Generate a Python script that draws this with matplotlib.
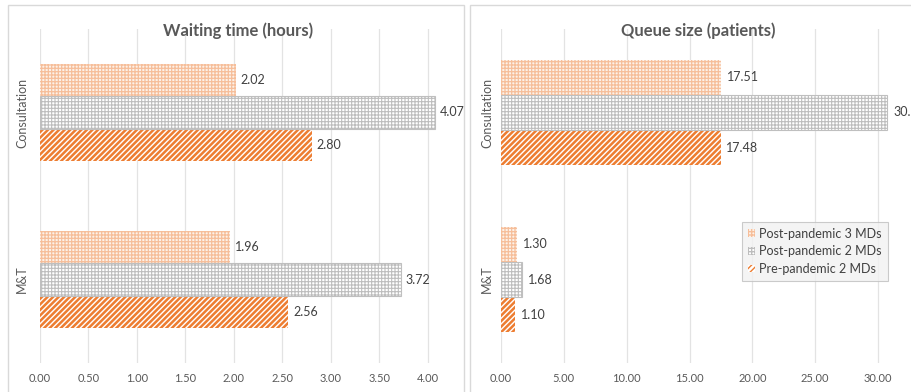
import numpy as np
import matplotlib
matplotlib.use("Agg")
import matplotlib.pyplot as plt
from matplotlib.patches import Rectangle

plt.rcParams['font.family'] = ['Lato', 'DejaVu Sans']

CATEGORIES = ['M&T', 'Consultation']
SERIES = ['Post-pandemic 3 MDs', 'Post-pandemic 2 MDs', 'Pre-pandemic 2 MDs']

# values per series, ordered as CATEGORIES (bottom to top)
WAIT_POST3 = [1.96, 2.02]
WAIT_POST2 = [3.72, 4.07]
WAIT_PRE2 = [2.56, 2.80]

QUEUE_POST3 = [1.30, 17.51]
QUEUE_POST2 = [1.68, 30.74]
QUEUE_PRE2 = [1.10, 17.48]

WAIT_TICKS = [0.0, 0.5, 1.0, 1.5, 2.0, 2.5, 3.0, 3.5, 4.0]
QUEUE_TICKS = [0, 5, 10, 15, 20, 25, 30]

STYLES = [
    dict(face='#FDF1E8', hatch='+++++', hcolor='#F6BE9A', lw=0.9),
    dict(face='white', hatch='+++++', hcolor='#BDBDBD', lw=0.8),
    dict(face='white', hatch='//////', hcolor='#ED7D31', lw=1.8),
]

W, H = 912, 392
fig = plt.figure(figsize=(W / 100, H / 100), dpi=100)

# chart frames
for x0, x1 in [(8, 464), (470, 930)]:
    fig.patches.append(Rectangle((x0 / W, -0.1), (x1 - x0) / W, (H - 5) / H + 0.1,
                                 transform=fig.transFigure, fill=False,
                                 edgecolor='#D9D9D9', linewidth=1.0))


def px_axes(left, right, top=29, bottom=363):
    return fig.add_axes([left / W, (H - bottom) / H, (right - left) / W,
                         (bottom - top) / H])


def draw_panel(ax, series, ticks, xmax, bar_h, title, title_x, label_pad, cat_x):
    y = np.arange(len(CATEGORIES))
    offsets = [bar_h, 0, -bar_h]
    handles = []
    for vals, off, st, name in zip(series, offsets, STYLES, SERIES):
        with plt.rc_context({'hatch.linewidth': st['lw']}):
            bars = ax.barh(y + off, vals, height=bar_h, color=st['face'],
                           edgecolor=st['hcolor'], hatch=st['hatch'],
                           linewidth=0, label=name, zorder=2)
        for b in bars:
            if hasattr(b, 'set_hatch_linewidth'):
                b.set_hatch_linewidth(st['lw'])
        if name == 'Post-pandemic 2 MDs':
            for b in bars:
                ax.add_patch(Rectangle(b.get_xy(), b.get_width(), b.get_height(),
                                       fill=False, edgecolor='#BFBFBF',
                                       linewidth=0.8, zorder=3))
        for yy, v in zip(y + off, vals):
            ax.text(v + label_pad, yy, f'{v:.2f}', va='center', ha='left',
                    fontsize=9, color='#404040', clip_on=False)
        handles.append(bars)
    ax.set_xlim(0, xmax)
    ax.set_ylim(-0.5, 1.5)
    ax.set_xticks(ticks)
    ax.set_xticklabels([f'{t:.2f}' for t in ticks], fontsize=8, color='#595959')
    ax.set_yticks([])
    for v in ticks:
        ax.axvline(v, color='#E3E3E3', linewidth=0.9, zorder=0)
    for s in ax.spines.values():
        s.set_visible(False)
    ax.tick_params(axis='x', length=0, pad=7)
    ax.patch.set_alpha(0)
    for yy, cat in zip(y, CATEGORIES):
        fig.text(cat_x / W, 1 - (363 - (yy + 0.5) * 167) / H, cat, rotation=90,
                 ha='center', va='center', fontsize=9, color='#595959')
    fig.text(title_x / W, (H - 31) / H, title, ha='center', va='center',
             fontsize=12, fontweight='bold', color='#595959')
    return handles


ax1 = px_axes(40, 40 + 4.2 * 97)
draw_panel(ax1, [WAIT_POST3, WAIT_POST2, WAIT_PRE2], WAIT_TICKS, 4.2, 0.193,
           'Waiting time (hours)', 238, 0.05, 22)

ax2 = px_axes(501, W)
handles = draw_panel(ax2, [QUEUE_POST3, QUEUE_POST2, QUEUE_PRE2], QUEUE_TICKS,
                     (W - 501) / 12.57, 0.21, 'Queue size (patients)', 698, 0.45, 487)

leg = ax2.legend(handles=handles, loc='upper left',
                 bbox_to_anchor=((742 - 501) / (W - 501), (363 - 222) / 334),
                 fontsize=9, frameon=True, fancybox=False, handlelength=0.6,
                 handleheight=0.6, handletextpad=0.35, labelspacing=0.45,
                 borderpad=0.45, borderaxespad=0, labelcolor='#404040')
leg.get_frame().set_facecolor('#F2F2F2')
leg.get_frame().set_edgecolor('#BFBFBF')
leg.get_frame().set_linewidth(0.8)

fig.savefig('out.png', dpi=100)
